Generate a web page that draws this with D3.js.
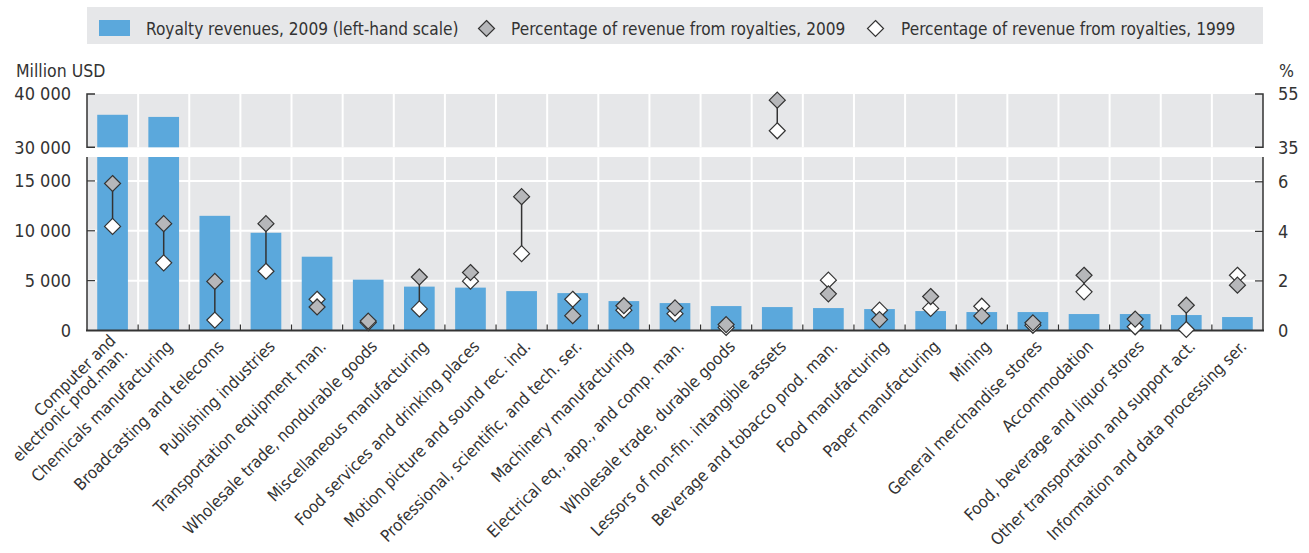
<!DOCTYPE html>
<html><head><meta charset="utf-8">
<script src="https://cdn.jsdelivr.net/npm/d3@7"></script>
<style>
body{margin:0;background:#fff;}
svg text{font-family:"Liberation Sans Narrow","Arial Narrow","DejaVu Sans Condensed",sans-serif;fill:#333;}
</style></head>
<body><svg id="c" width="1309" height="553"></svg>
<script>
const categories = ["Computer and\nelectronic prod.man.","Chemicals manufacturing","Broadcasting and telecoms","Publishing industries","Transportation equipment man.","Wholesale trade, nondurable goods","Miscellaneous manufacturing","Food services and drinking places","Motion picture and sound rec. ind.","Professional, scientific, and tech. ser.","Machinery manufacturing","Electrical eq., app., and comp. man.","Wholesale trade, durable goods","Lessors of non-fin. intangible assets","Beverage and tobacco prod. man.","Food manufacturing","Paper manufacturing","Mining","General merchandise stores","Accommodation","Food, beverage and liquor stores","Other transportation and support act.","Information and data processing ser."];
const revenue2009 = [36100,35700,11500,9800,7400,5100,4400,4300,3950,3750,2950,2750,2450,2350,2250,2150,1950,1850,1850,1650,1650,1550,1350];
const pct2009 = [5.93,4.31,1.98,4.31,0.95,0.38,2.16,2.34,5.4,0.6,1.0,0.91,0.24,52.7,1.48,0.44,1.37,0.59,0.31,2.23,0.46,1.02,1.83];
const pct1999 = [4.2,2.73,0.42,2.39,1.26,0.32,0.87,1.99,3.1,1.26,0.82,0.68,0.12,41.2,2.03,0.82,0.89,0.98,0.21,1.56,0.15,0.04,2.23];
const leftTicksLow = [0,5000,10000,15000];
const leftTicksHigh = [30000,40000];
const rightTicksLow = [0,2,4,6];
const rightTicksHigh = [35,55];
const legendItems = ["Royalty revenues, 2009 (left-hand scale)","Percentage of revenue from royalties, 2009","Percentage of revenue from royalties, 1999"];

const svg = d3.select("#c");
const L = 87, R = 1263;
const lowTop = 157, lowBot = 330.5, highTop = 94, highBot = 147.3;
const BG = "#e6e7e9", BLUE = "#5ba8dc", GRAY = "#b6b7ba", DARK = "#333";
const fmt = d => d3.format(",")(d).replace(/,/g, " ");

const x = d3.scaleBand().domain(categories).range([L, R]).padding(0);
const bw = x.bandwidth();
const barW = bw * 0.6;
const yLow = d3.scaleLinear().domain([0, 17400]).range([lowBot, lowTop]);
const yHigh = d3.scaleLinear().domain([30000, 40000]).range([highBot, highTop]);
const pLow = d3.scaleLinear().domain([0, 7]).range([lowBot, lowTop]);
const pHigh = d3.scaleLinear().domain([35, 55]).range([highBot, highTop]);
const py = v => v > 7 ? pHigh(v) : pLow(v);

// legend
svg.append("rect").attr("x", L).attr("y", 7).attr("width", R - L).attr("height", 37).attr("fill", BG);
svg.append("rect").attr("x", 99).attr("y", 20).attr("width", 31).attr("height", 16).attr("fill", BLUE);
const diamond = (g, cx, cy, fill, r) => g.append("path")
  .attr("d", `M${cx},${cy - r}L${cx + r},${cy}L${cx},${cy + r}L${cx - r},${cy}Z`)
  .attr("fill", fill).attr("stroke", DARK).attr("stroke-width", 1.2);
diamond(svg, 486.5, 28.5, GRAY, 8);
diamond(svg, 875.5, 28.5, "#fff", 8);
const legX = [146, 511, 901];
legendItems.forEach((t, i) => svg.append("text").attr("x", legX[i]).attr("y", 35).attr("font-size", 17.1).text(t));

// panels background
svg.append("rect").attr("x", L).attr("y", highTop).attr("width", R - L).attr("height", highBot - highTop).attr("fill", BG);
svg.append("rect").attr("x", L).attr("y", lowTop).attr("width", R - L).attr("height", lowBot - lowTop).attr("fill", BG);

// grid
const grid = svg.append("g").attr("stroke", "#fff").attr("stroke-width", 2);
categories.slice(1).forEach(c => {
  grid.append("line").attr("x1", x(c)).attr("x2", x(c)).attr("y1", highTop).attr("y2", highBot);
  grid.append("line").attr("x1", x(c)).attr("x2", x(c)).attr("y1", lowTop).attr("y2", lowBot);
});
leftTicksLow.filter(d => d > 0).forEach(d => {
  grid.append("line").attr("x1", L).attr("x2", R).attr("y1", yLow(d)).attr("y2", yLow(d));
});

// bars
const bars = svg.append("g").attr("fill", BLUE);
categories.forEach((c, i) => {
  const v = revenue2009[i];
  const bx = x(c) + (bw - barW) / 2;
  const top = Math.max(yLow(Math.min(v, 17400)), lowTop);
  bars.append("rect").attr("x", bx).attr("y", top).attr("width", barW).attr("height", lowBot - top);
  if (v > 30000) {
    bars.append("rect").attr("x", bx).attr("y", yHigh(v)).attr("width", barW).attr("height", highBot - yHigh(v));
  }
});

// axes
const ax = svg.append("g").attr("stroke", DARK).attr("fill", "none");
ax.append("line").attr("x1", L).attr("x2", L).attr("y1", lowTop).attr("y2", lowBot).attr("stroke-width", 1.5);
ax.append("line").attr("x1", R).attr("x2", R).attr("y1", lowTop).attr("y2", lowBot).attr("stroke-width", 1.5);
ax.append("path").attr("d", `M${L + 8},${highTop}H${L}V${highBot}H${L + 8}`).attr("stroke-width", 1.5);
ax.append("path").attr("d", `M${R - 8},${highTop}H${R}V${highBot}H${R - 8}`).attr("stroke-width", 1.5);
leftTicksLow.filter(d => d > 0).forEach(d => ax.append("line").attr("x1", L).attr("x2", L + 8).attr("y1", yLow(d)).attr("y2", yLow(d)).attr("stroke-width", 1.2));
rightTicksLow.filter(d => d > 0).forEach(d => ax.append("line").attr("x1", R - 8).attr("x2", R).attr("y1", pLow(d)).attr("y2", pLow(d)).attr("stroke-width", 1.2));
categories.slice(1).forEach(c => ax.append("line").attr("x1", x(c)).attr("x2", x(c)).attr("y1", lowBot).attr("y2", lowBot - 6).attr("stroke-width", 1.2));
ax.append("line").attr("x1", L - 1).attr("x2", R + 1).attr("y1", lowBot).attr("y2", lowBot).attr("stroke-width", 2.2);

// tick labels
const tl = svg.append("g").attr("font-size", 18);
leftTicksLow.forEach(d => tl.append("text").attr("x", 71).attr("y", yLow(d)).attr("dy", "0.36em").attr("text-anchor", "end").text(fmt(d)));
leftTicksHigh.forEach(d => tl.append("text").attr("x", 71).attr("y", yHigh(d)).attr("dy", "0.36em").attr("text-anchor", "end").text(fmt(d)));
rightTicksLow.forEach(d => tl.append("text").attr("x", 1278).attr("y", pLow(d)).attr("dy", "0.36em").text(d));
rightTicksHigh.forEach(d => tl.append("text").attr("x", 1278).attr("y", pHigh(d)).attr("dy", "0.36em").text(d));
svg.append("text").attr("x", 16).attr("y", 77).attr("font-size", 17.5).text("Million USD");
svg.append("text").attr("x", 1279).attr("y", 77).attr("font-size", 17.5).text("%");

// connectors and diamonds
const pts = svg.append("g");
categories.forEach((c, i) => {
  const cx = x(c) + bw / 2;
  pts.append("line").attr("x1", cx).attr("x2", cx).attr("y1", py(pct2009[i])).attr("y2", py(pct1999[i])).attr("stroke", DARK).attr("stroke-width", 1.5);
});
categories.forEach((c, i) => diamond(pts, x(c) + bw / 2, py(pct1999[i]), "#fff", 8));
categories.forEach((c, i) => diamond(pts, x(c) + bw / 2, py(pct2009[i]), GRAY, 8));

// x labels
const xl = svg.append("g").attr("font-size", 16.6);
categories.forEach(c => {
  const cx = x(c) + bw / 2 + 6;
  const t = xl.append("text").attr("transform", `translate(${cx},${lowBot + 13}) rotate(-45)`).attr("text-anchor", "end");
  const lines = c.split("\n");
  lines.forEach((ln, k) => t.append("tspan").attr("x", 0).attr("dy", k === 0 ? (0.35 - (lines.length - 1) * 0.5) + "em" : "1.0em").text(ln));
});
</script></body></html>
